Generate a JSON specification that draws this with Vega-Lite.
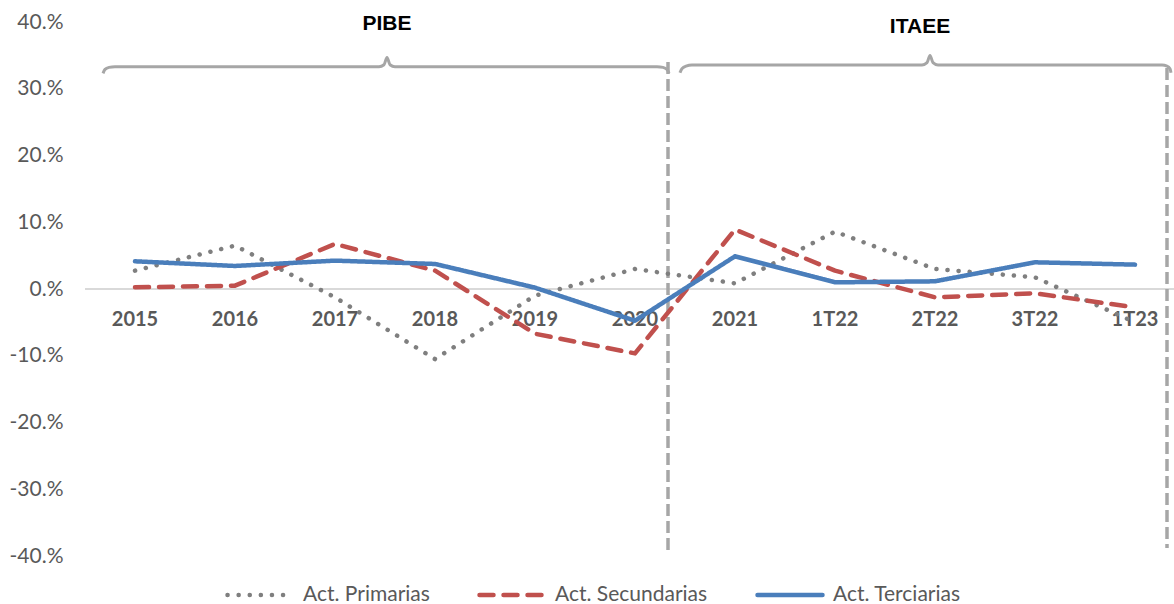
{
  "$schema": "https://vega.github.io/schema/vega-lite/v6.json",
  "width": 1089,
  "height": 534,
  "autosize": "none",
  "padding": {"left": 85, "top": 22, "right": 0, "bottom": 48},
  "background": "white",
  "config": {"view": {"stroke": null}},
  "data": {
    "values": [
      {"tipo": "serie", "periodo": "2015", "idx": 0, "serie": "Act. Primarias", "valor": 2.75},
      {"tipo": "serie", "periodo": "2016", "idx": 1, "serie": "Act. Primarias", "valor": 6.5},
      {"tipo": "serie", "periodo": "2017", "idx": 2, "serie": "Act. Primarias", "valor": -1.25},
      {"tipo": "serie", "periodo": "2018", "idx": 3, "serie": "Act. Primarias", "valor": -10.5},
      {"tipo": "serie", "periodo": "2019", "idx": 4, "serie": "Act. Primarias", "valor": -1.0},
      {"tipo": "serie", "periodo": "2020", "idx": 5, "serie": "Act. Primarias", "valor": 3.0},
      {"tipo": "serie", "periodo": "2021", "idx": 6, "serie": "Act. Primarias", "valor": 0.85},
      {"tipo": "serie", "periodo": "1T22", "idx": 7, "serie": "Act. Primarias", "valor": 8.6},
      {"tipo": "serie", "periodo": "2T22", "idx": 8, "serie": "Act. Primarias", "valor": 3.0},
      {"tipo": "serie", "periodo": "3T22", "idx": 9, "serie": "Act. Primarias", "valor": 1.75},
      {"tipo": "serie", "periodo": "1T23", "idx": 10, "serie": "Act. Primarias", "valor": -5.0},
      {"tipo": "serie", "periodo": "2015", "idx": 0, "serie": "Act. Secundarias", "valor": 0.25},
      {"tipo": "serie", "periodo": "2016", "idx": 1, "serie": "Act. Secundarias", "valor": 0.5},
      {"tipo": "serie", "periodo": "2017", "idx": 2, "serie": "Act. Secundarias", "valor": 6.75},
      {"tipo": "serie", "periodo": "2018", "idx": 3, "serie": "Act. Secundarias", "valor": 2.75},
      {"tipo": "serie", "periodo": "2019", "idx": 4, "serie": "Act. Secundarias", "valor": -6.7},
      {"tipo": "serie", "periodo": "2020", "idx": 5, "serie": "Act. Secundarias", "valor": -9.65},
      {"tipo": "serie", "periodo": "2021", "idx": 6, "serie": "Act. Secundarias", "valor": 8.9},
      {"tipo": "serie", "periodo": "1T22", "idx": 7, "serie": "Act. Secundarias", "valor": 2.75},
      {"tipo": "serie", "periodo": "2T22", "idx": 8, "serie": "Act. Secundarias", "valor": -1.25},
      {"tipo": "serie", "periodo": "3T22", "idx": 9, "serie": "Act. Secundarias", "valor": -0.65},
      {"tipo": "serie", "periodo": "1T23", "idx": 10, "serie": "Act. Secundarias", "valor": -2.75},
      {"tipo": "serie", "periodo": "2015", "idx": 0, "serie": "Act. Terciarias", "valor": 4.15},
      {"tipo": "serie", "periodo": "2016", "idx": 1, "serie": "Act. Terciarias", "valor": 3.45},
      {"tipo": "serie", "periodo": "2017", "idx": 2, "serie": "Act. Terciarias", "valor": 4.25},
      {"tipo": "serie", "periodo": "2018", "idx": 3, "serie": "Act. Terciarias", "valor": 3.75},
      {"tipo": "serie", "periodo": "2019", "idx": 4, "serie": "Act. Terciarias", "valor": 0.2},
      {"tipo": "serie", "periodo": "2020", "idx": 5, "serie": "Act. Terciarias", "valor": -4.75},
      {"tipo": "serie", "periodo": "2021", "idx": 6, "serie": "Act. Terciarias", "valor": 4.9},
      {"tipo": "serie", "periodo": "1T22", "idx": 7, "serie": "Act. Terciarias", "valor": 1.0},
      {"tipo": "serie", "periodo": "2T22", "idx": 8, "serie": "Act. Terciarias", "valor": 1.15},
      {"tipo": "serie", "periodo": "3T22", "idx": 9, "serie": "Act. Terciarias", "valor": 4.0},
      {"tipo": "serie", "periodo": "1T23", "idx": 10, "serie": "Act. Terciarias", "valor": 3.65},
      {"tipo": "llave", "llave": "PIBE", "k": 0, "idx": -0.32, "valor": 32.3},
      {"tipo": "llave", "llave": "PIBE", "k": 1, "idx": -0.30, "valor": 32.9},
      {"tipo": "llave", "llave": "PIBE", "k": 2, "idx": -0.26, "valor": 33.2},
      {"tipo": "llave", "llave": "PIBE", "k": 3, "idx": -0.20, "valor": 33.3},
      {"tipo": "llave", "llave": "PIBE", "k": 4, "idx": 2.44, "valor": 33.3},
      {"tipo": "llave", "llave": "PIBE", "k": 5, "idx": 2.49, "valor": 33.6},
      {"tipo": "llave", "llave": "PIBE", "k": 6, "idx": 2.52, "valor": 34.7},
      {"tipo": "llave", "llave": "PIBE", "k": 7, "idx": 2.55, "valor": 33.6},
      {"tipo": "llave", "llave": "PIBE", "k": 8, "idx": 2.60, "valor": 33.3},
      {"tipo": "llave", "llave": "PIBE", "k": 9, "idx": 5.22, "valor": 33.3},
      {"tipo": "llave", "llave": "PIBE", "k": 10, "idx": 5.28, "valor": 33.2},
      {"tipo": "llave", "llave": "PIBE", "k": 11, "idx": 5.32, "valor": 32.9},
      {"tipo": "llave", "llave": "PIBE", "k": 12, "idx": 5.34, "valor": 32.3},
      {"tipo": "llave", "llave": "ITAEE", "k": 0, "idx": 5.45, "valor": 32.4},
      {"tipo": "llave", "llave": "ITAEE", "k": 1, "idx": 5.47, "valor": 33.0},
      {"tipo": "llave", "llave": "ITAEE", "k": 2, "idx": 5.51, "valor": 33.4},
      {"tipo": "llave", "llave": "ITAEE", "k": 3, "idx": 5.57, "valor": 33.55},
      {"tipo": "llave", "llave": "ITAEE", "k": 4, "idx": 7.87, "valor": 33.55},
      {"tipo": "llave", "llave": "ITAEE", "k": 5, "idx": 7.92, "valor": 33.9},
      {"tipo": "llave", "llave": "ITAEE", "k": 6, "idx": 7.95, "valor": 35.0},
      {"tipo": "llave", "llave": "ITAEE", "k": 7, "idx": 7.98, "valor": 33.9},
      {"tipo": "llave", "llave": "ITAEE", "k": 8, "idx": 8.03, "valor": 33.55},
      {"tipo": "llave", "llave": "ITAEE", "k": 9, "idx": 10.27, "valor": 33.55},
      {"tipo": "llave", "llave": "ITAEE", "k": 10, "idx": 10.32, "valor": 33.4},
      {"tipo": "llave", "llave": "ITAEE", "k": 11, "idx": 10.35, "valor": 33.0},
      {"tipo": "llave", "llave": "ITAEE", "k": 12, "idx": 10.36, "valor": 32.4},
      {"tipo": "division", "idx": 5.33, "valor": 34.0, "valor2": -39.1},
      {"tipo": "division", "idx": 10.32, "valor": 33.1, "valor2": -38.8},
      {"tipo": "titulo", "titulo": "PIBE", "idx": 2.52, "valor": 39.7},
      {"tipo": "titulo", "titulo": "ITAEE", "idx": 7.85, "valor": 39.2}
    ]
  },
  "encoding": {
    "x": {
      "field": "idx", "type": "quantitative",
      "scale": {"domain": [-0.5, 10.39], "nice": false, "zero": false},
      "axis": null
    },
    "y": {
      "field": "valor", "type": "quantitative",
      "scale": {"domain": [-40, 40], "nice": false},
      "axis": {
        "values": [-40, -30, -20, -10, 0, 10, 20, 30, 40],
        "labelExpr": "datum.value + '.%'",
        "title": null, "grid": false, "domain": false, "ticks": false,
        "labelPadding": 22, "labelFont": "Lato", "labelFontSize": 21,
        "labelColor": "#595959"
      }
    }
  },
  "layer": [
    {
      "transform": [{"filter": "datum.tipo === 'serie' && datum.idx === 0"}],
      "mark": {"type": "rule", "color": "#d9d9d9", "strokeWidth": 1.5},
      "encoding": {"x": {"value": 0}, "x2": {"value": 1089}, "y": {"datum": 0, "type": "quantitative"}}
    },
    {
      "transform": [{"filter": "datum.tipo === 'division'"}],
      "mark": {"type": "rule", "color": "#a6a6a6", "strokeWidth": 3.5, "strokeDash": [12, 5]},
      "encoding": {
        "y2": {"field": "valor2"}
      }
    },
    {
      "transform": [{"filter": "datum.tipo === 'llave'"}],
      "mark": {"type": "line", "color": "#a6a6a6", "strokeWidth": 3, "interpolate": "monotone"},
      "encoding": {
        "detail": {"field": "llave", "type": "nominal"},
        "order": {"field": "k", "type": "quantitative"}
      }
    },
    {
      "transform": [{"filter": "datum.tipo === 'titulo'"}],
      "mark": {"type": "text", "font": "Liberation Sans", "fontWeight": "bold", "fontSize": 21, "color": "#000000", "baseline": "middle"},
      "encoding": {
        "text": {"field": "titulo", "type": "nominal"}
      }
    },
    {
      "transform": [{"filter": "datum.tipo === 'serie' && datum.serie === 'Act. Terciarias'"}],
      "mark": {"type": "text", "font": "Lato", "fontWeight": "bold", "fontSize": 20, "color": "#595959", "baseline": "middle", "dy": 31},
      "encoding": {
        "y": {"datum": 0, "type": "quantitative"},
        "text": {"field": "periodo", "type": "nominal"}
      }
    },
    {
      "transform": [{"filter": "datum.tipo === 'serie'"}],
      "mark": {"type": "line", "strokeWidth": 4.5, "strokeCap": "round", "strokeJoin": "round"},
      "encoding": {
        "color": {
          "field": "serie", "type": "nominal",
          "scale": {
            "domain": ["Act. Primarias", "Act. Secundarias", "Act. Terciarias"],
            "range": ["#7f7f7f", "#c0504d", "#4a7ebb"]
          },
          "legend": {
            "orient": "none", "direction": "horizontal", "legendX": 140, "legendY": 538,
            "title": null, "symbolType": "stroke", "symbolSize": 4225, "symbolStrokeWidth": 4.5,
            "labelFont": "Lato", "labelFontSize": 21, "labelColor": "#595959",
            "labelOffset": 8, "columnPadding": 40,
            "encode": {"symbols": {"update": {"strokeCap": {"value": "round"}}}}
          }
        },
        "strokeDash": {
          "field": "serie", "type": "nominal",
          "scale": {
            "domain": ["Act. Primarias", "Act. Secundarias", "Act. Terciarias"],
            "range": [[0.1, 11], [14, 10], [1, 0]]
          }
        }
      }
    }
  ]
}
